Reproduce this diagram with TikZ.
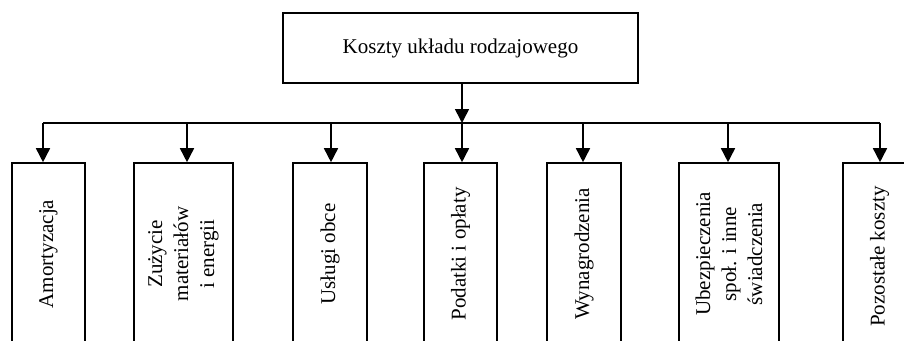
\documentclass[tikz,border=0pt]{standalone}
\usepackage{fontspec}
\setmainfont{Liberation Serif}
\usetikzlibrary{arrows.meta}

\tikzset{
  box/.style={draw, line width=1.6pt, align=center, inner sep=2pt},
  leaf/.style={box, rotate=90, minimum width=182pt},
  arr/.style={line width=1.6pt, -{Triangle[length=14pt,width=14pt]}},
}

\begin{document}
\begin{tikzpicture}[x=1pt, y=-1pt, font=\fontsize{21}{26}\selectfont]
  \useasboundingbox (0,0) rectangle (904,340);
  \clip (0,0) rectangle (904,340);

  %% Top box
  \node[box, minimum width=355pt, minimum height=70pt] (top) at (460.5,48)
    {Koszty układu rodzajowego};

  %% Branch boxes, text rotated
  \foreach \i/\cx/\w/\ax/\txt in {
      1/48.5/73/43/{Amortyzacja},
      2/183.5/99/187/{Zużycie\\materiałów\\i energii},
      3/330/74/331/{Usługi obce},
      4/460.5/73/462/{Podatki i opłaty},
      5/584/74/583/{Wynagrodzenia},
      6/729/100/728/{Ubezpieczenia\\społ. i inne\\świadczenia},
      7/879.5/73/880/{Pozostałe koszty}
  } {
    \node[leaf, minimum height=\w pt] (b\i) at (\cx,254) {\txt};
    \coordinate (t\i) at (\ax,123);
    \draw[arr] (t\i) -- (t\i |- b\i.east);
  }

  %% Bus line and main arrow
  \draw[line width=1.6pt] (t1) -- (t7);
  \draw[arr] (top.south -| t4) -- (t4);
\end{tikzpicture}
\end{document}
